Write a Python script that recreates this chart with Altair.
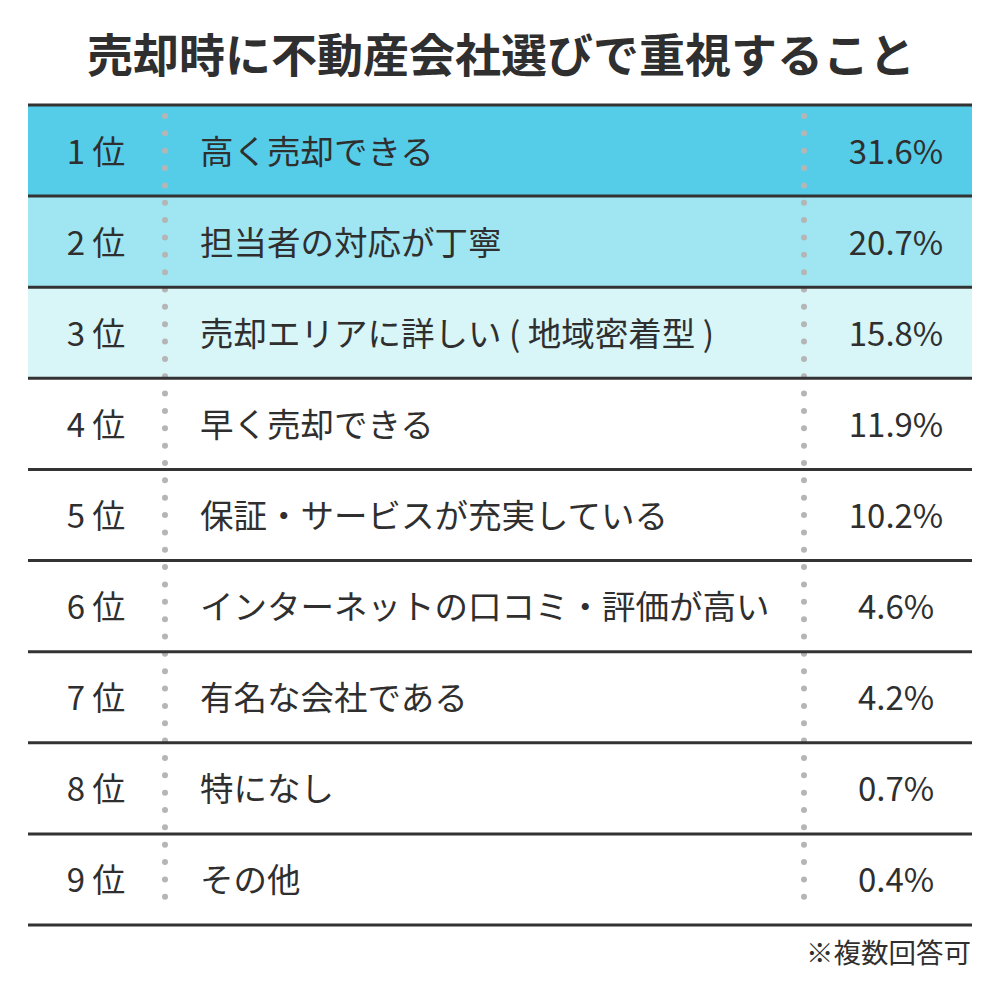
import altair as alt
import pandas as pd

ranks = ["1 位", "2 位", "3 位", "4 位", "5 位", "6 位", "7 位", "8 位", "9 位"]
labels = [
    "高く売却できる",
    "担当者の対応が丁寧",
    "売却エリアに詳しい ( 地域密着型 )",
    "早く売却できる",
    "保証・サービスが充実している",
    "インターネットの口コミ・評価が高い",
    "有名な会社である",
    "特になし",
    "その他",
]
values = [31.6, 20.7, 15.8, 11.9, 10.2, 4.6, 4.2, 0.7, 0.4]
tiers = ["t1", "t2", "t3", "t4", "t4", "t4", "t4", "t4", "t4"]
tier_colors = ["#56CDE8", "#9FE6F2", "#D8F5F8", "#FFFFFF"]

FONT = "Noto Sans CJK JP"
TXT = "#2f2f2f"

n = len(ranks)
df = pd.DataFrame({
    "rank": ranks,
    "label": labels,
    "value": [f"{v:.1f}%" for v in values],
    "tier": tiers,
    "top": list(range(n)),
    "bottom": [i + 1 for i in range(n)],
    "mid": [i + 0.5 for i in range(n)],
})
lines = pd.DataFrame({"b": list(range(n + 1))})
one = pd.DataFrame({"k": [0]})

yscale = alt.Scale(domain=[0, n], range=[97, 917])

bg = alt.Chart(df).mark_rect().encode(
    x=alt.value(20), x2=alt.value(964),
    y=alt.Y("top:Q", scale=yscale, axis=None), y2="bottom:Q",
    color=alt.Color("tier:N", scale=alt.Scale(domain=["t1", "t2", "t3", "t4"], range=tier_colors), legend=None),
)

rules = alt.Chart(lines).mark_rule(color="#333333", strokeWidth=3).encode(
    x=alt.value(20), x2=alt.value(964),
    y=alt.Y("b:Q", scale=yscale, axis=None),
)

dots = alt.Chart(one).mark_rule(color="#b5b5b5", strokeWidth=6, strokeDash=[0, 17.35], strokeCap="round").encode(
    x=alt.value(157), y=alt.value(108), y2=alt.value(906),
)
dots2 = alt.Chart(one).mark_rule(color="#b5b5b5", strokeWidth=6, strokeDash=[0, 17.35], strokeCap="round").encode(
    x=alt.value(796), y=alt.value(108), y2=alt.value(906),
)

base_txt = dict(font=FONT, color=TXT, baseline="middle", dy=3)
rank_t = alt.Chart(df).mark_text(align="center", fontSize=33, **base_txt).encode(
    x=alt.value(88), y=alt.Y("mid:Q", scale=yscale, axis=None), text="rank:N")
label_t = alt.Chart(df).mark_text(align="left", fontSize=33.5, **base_txt).encode(
    x=alt.value(192), y=alt.Y("mid:Q", scale=yscale, axis=None), text="label:N")
val_t = alt.Chart(df).mark_text(align="center", fontSize=33, **base_txt).encode(
    x=alt.value(888), y=alt.Y("mid:Q", scale=yscale, axis=None), text="value:N")

title = alt.Chart(pd.DataFrame({"t": ["売却時に不動産会社選びで重視すること"]})).mark_text(
    font=FONT, fontSize=46, fontWeight="bold", color=TXT, align="center", baseline="middle"
).encode(x=alt.value(493), y=alt.value(50), text="t:N")

note = alt.Chart(pd.DataFrame({"t": ["※複数回答可"]})).mark_text(
    font=FONT, fontSize=27.5, color=TXT, align="right", baseline="middle"
).encode(x=alt.value(963), y=alt.value(947), text="t:N")

chart = alt.layer(bg, dots, dots2, rules, rank_t, label_t, val_t, title, note).properties(
    width=984, height=971, padding=0,
    autosize=alt.AutoSizeParams(type="fit", contains="padding"),
    background="white",
).configure_view(stroke=None)

chart.save("out.html", embed_options={"renderer": "svg", "actions": False})
